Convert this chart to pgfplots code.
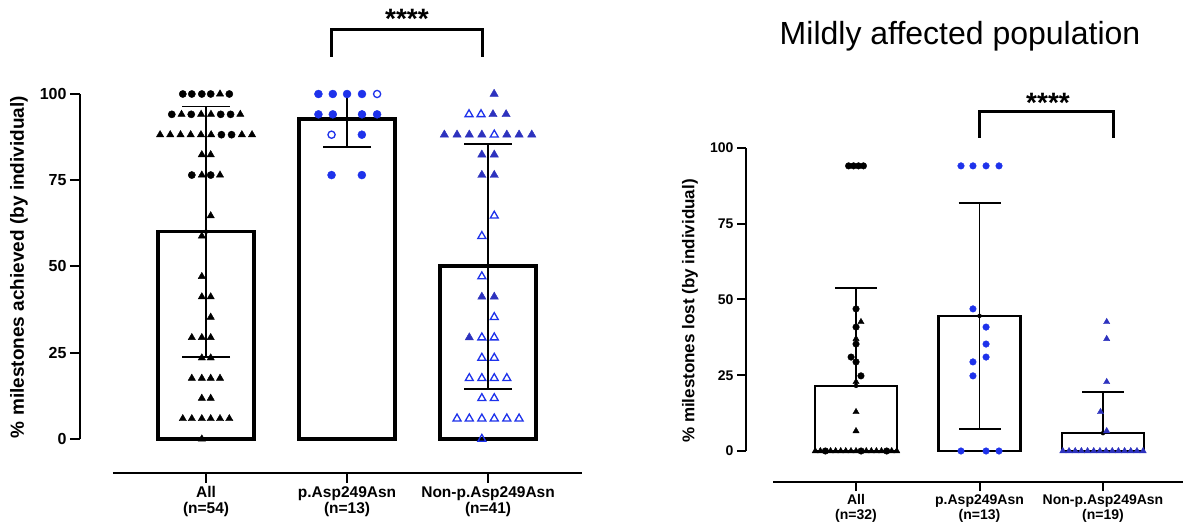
\documentclass[border=0pt]{standalone}
\usepackage{fontspec}
\setmainfont{Liberation Sans}
\usepackage{pgfplots}
\pgfplotsset{compat=1.18}
\definecolor{cblue}{RGB}{30,50,235}
\definecolor{tblue}{RGB}{45,50,190}
\newcommand\fs[2]{\fontsize{#1}{#2}\selectfont}

\pgfplotsset{
  gpstyle/.style={
    scale only axis, anchor=south west, clip=false,
    axis lines*=left, axis line style={draw=none},
    tick align=outside, major tick length=10pt,
    tick style={black, line width=2pt},
    xtick={0,1,2}, ytick={0,25,50,75,100},
    /pgf/number format/assume math mode=true,
  }
}

\begin{document}
\begin{tikzpicture}[x=1pt,y=1pt]
\useasboundingbox (0,0) rectangle (1183,527);

% ---------------- LEFT PANEL ----------------
\begin{axis}[gpstyle,
  at={(80pt,54pt)}, width=510pt, height=379pt,
  xmin=-0.894, xmax=2.723, ymin=-9.86, ymax=100,
  xticklabels={{All\\(n=54)},{p.Asp249Asn\\(n=13)},{Non-p.Asp249Asn\\(n=41)}},
  xticklabel style={align=center, font=\fs{15.5}{16}\bfseries},
  yticklabel style={font=\fs{16}{16}\bfseries},
]
\draw[line width=2pt] (axis cs:-0.894,0) -- (axis cs:-0.894,100);
\draw[line width=2pt] (axis cs:-0.66,-9.86) -- (axis cs:2.667,-9.86);

\addplot[ybar, bar width=0.68, fill=white, draw=black, line width=3.5pt]
  coordinates {(0,60.1) (1,92.7) (2,50.1)};

\addplot[only marks, mark=none, error bars/.cd, y dir=both, y explicit,
  error bar style={line width=1.8pt, black},
  error mark options={rotate=90, mark size=24pt, line width=1.8pt, black}]
  coordinates {(0,60.1) +- (0,36.3) (2,50.1) +- (0,35.5)};
\addplot[only marks, mark=none, error bars/.cd, y dir=minus, y explicit,
  error bar style={line width=1.8pt, black},
  error mark options={rotate=90, mark size=24pt, line width=1.8pt, black}]
  coordinates {(1,92.7) +- (0,8.1)};
\addplot[only marks, mark=none, error bars/.cd, y dir=plus, y explicit,
  error mark=none,
  error bar style={line width=1.8pt, black}]
  coordinates {(1,92.7) +- (0,7.3)};

% All: circles
\addplot[only marks, mark=*, mark size=3.6pt, black] table {
x y
-0.165 100
-0.101 100
-0.030 100
0.033 100
0.165 100
-0.243 94.1
-0.105 94.1
0.104 94.1
0.174 94.1
0.109 88.2
0.181 88.2
-0.101 76.5
0.033 76.5
};
% All: triangles
\addplot[only marks, mark=triangle*, mark size=4.2pt, black] table {
x y
0.099 100
-0.174 94.1
-0.035 94.1
0.035 94.1
0.243 94.1
-0.326 88.2
-0.254 88.2
-0.181 88.2
-0.109 88.2
-0.036 88.2
0.036 88.2
0.254 88.2
0.326 88.2
-0.030 82.4
0.033 82.4
-0.030 76.5
0.099 76.5
0.033 64.7
-0.030 58.8
-0.030 47.1
-0.030 41.2
0.033 41.2
0.033 35.3
-0.101 29.4
-0.030 29.4
0.033 29.4
-0.030 23.5
0.033 23.5
-0.101 17.6
-0.030 17.6
0.033 17.6
0.099 17.6
-0.030 11.8
0.033 11.8
-0.165 5.9
-0.101 5.9
-0.030 5.9
0.033 5.9
0.099 5.9
0.165 5.9
-0.030 0
};
% p.Asp249Asn: filled circles
\addplot[only marks, mark=*, mark size=4pt, cblue] table {
x y
0.797 100
0.899 100
1.000 100
1.106 100
0.797 94.1
0.899 94.1
1.106 94.1
1.213 94.1
1.105 88.2
0.890 76.5
1.105 76.5
};
% p.Asp249Asn: open circles
\addplot[only marks, mark=o, mark size=3.6pt, line width=1.3pt, cblue] table {
x y
1.213 100
0.890 88.2
};
% Non: filled triangles
\addplot[only marks, mark=triangle*, mark size=4.8pt, tblue] table {
x y
2.043 100
2.035 94.1
2.128 94.1
1.690 88.2
1.780 88.2
1.867 88.2
1.956 88.2
2.133 88.2
2.220 88.2
2.310 88.2
1.956 82.4
2.044 82.4
1.956 76.5
2.044 76.5
1.956 41.2
2.044 41.2
1.867 29.4
};
% Non: open triangles
\addplot[only marks, mark=triangle, mark size=4.6pt, line width=1.3pt, cblue] table {
x y
1.865 94.1
1.950 94.1
2.044 88.2
2.044 64.7
1.956 58.8
1.956 47.1
2.044 35.3
1.956 29.4
2.044 29.4
1.956 23.5
2.044 23.5
1.867 17.6
1.956 17.6
2.044 17.6
2.133 17.6
1.956 11.8
2.044 11.8
1.780 5.9
1.867 5.9
1.956 5.9
2.044 5.9
2.133 5.9
2.220 5.9
1.956 0
};
\end{axis}

\node[rotate=90, font=\fs{19}{19}\bfseries] at (19,260) {\% milestones achieved (by individual)};
\draw[line width=3pt] (331,470) -- (331,497) -- (482,497) -- (482,470);
\node[anchor=base, font=\fs{28}{28}\bfseries] at (407,498) {****};

% ---------------- RIGHT PANEL ----------------
\begin{axis}[gpstyle,
  at={(746pt,45pt)}, width=437pt, height=334pt,
  xmin=-0.891, xmax=2.648, ymin=-10.23, ymax=100,
  major tick length=9pt,
  xticklabels={{All\\(n=32)},{p.Asp249Asn\\(n=13)},{Non-p.Asp249Asn\\(n=19)}},
  xticklabel style={align=center, font=\fs{14}{15}\bfseries},
  yticklabel style={font=\fs{14}{14}\bfseries},
]
\draw[line width=2pt] (axis cs:-0.891,0) -- (axis cs:-0.891,100);
\draw[line width=2pt] (axis cs:-0.67,-10.23) -- (axis cs:2.648,-10.23);

\addplot[ybar, bar width=0.664, fill=white, draw=black, line width=2.5pt]
  coordinates {(0,21.5) (1,44.6) (2,5.9)};

\addplot[only marks, mark=none, error bars/.cd, y dir=plus, y explicit,
  error bar style={line width=1.8pt, black},
  error mark options={rotate=90, mark size=21pt, line width=1.8pt, black}]
  coordinates {(0,21.5) +- (0,32.3) (2,5.9) +- (0,13.6)};
\addplot[only marks, mark=none, error bars/.cd, y dir=both, y explicit,
  error bar style={line width=1.8pt, black},
  error mark options={rotate=90, mark size=21pt, line width=1.8pt, black}]
  coordinates {(1,44.6) +- (0,37.3)};

% All: circles
\addplot[only marks, mark=*, mark size=3.3pt, black] table {
x y
-0.06 94.1
-0.02 94.1
0.02 94.1
0.06 94.1
0 46.9
0 40.9
0 35.3
-0.04 31
0 29.4
0.04 24.8
-0.248 0
0.041 0
0.248 0
};
% All: triangles
\addplot[only marks, mark=triangle*, mark size=3.6pt, black] table {
x y
0.04 42.6
0 37
0 22.8
0 12.9
0 6.6
-0.330 0
-0.289 0
-0.206 0
-0.165 0
-0.124 0
-0.083 0
-0.041 0
0 0
0.083 0
0.124 0
0.165 0
0.206 0
0.289 0
0.330 0
};
% p.Asp249Asn
\addplot[only marks, mark=*, mark size=3.3pt, cblue] table {
x y
0.850 94.1
0.947 94.1
1.053 94.1
1.158 94.1
0.947 46.9
1.053 40.9
1.053 35.3
1.053 31
0.947 29.4
0.947 24.8
0.850 0
1.053 0
1.158 0
};
% Non
\addplot[only marks, mark=triangle*, mark size=3.6pt, tblue] table {
x y
2.03 42.6
2.03 37
2.03 22.8
1.98 12.9
2.03 6.6
1.675 0
1.725 0
1.775 0
1.825 0
1.875 0
1.925 0
1.975 0
2.025 0
2.075 0
2.125 0
2.175 0
2.225 0
2.275 0
2.325 0
};
\end{axis}

\node[rotate=90, font=\fs{17}{17}\bfseries] at (690,216) {\% milestones lost (by individual)};
\node[font=\fs{32}{32}] at (960,491) {Mildly affected population};
\draw[line width=3pt] (979,389) -- (979,415) -- (1113,415) -- (1113,389);
\node[anchor=base, font=\fs{28}{28}\bfseries] at (1048,414) {****};
\end{tikzpicture}
\end{document}
